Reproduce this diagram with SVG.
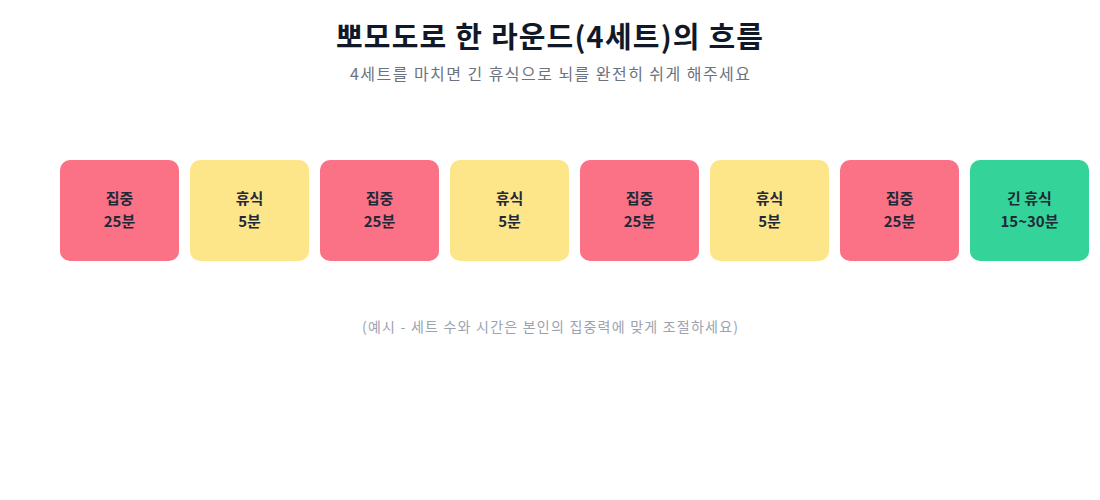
<svg xmlns="http://www.w3.org/2000/svg" width="1100" height="500" viewBox="0 0 1100 500">
<style>
text{font-family:"Noto Sans CJK KR","Noto Sans",sans-serif;text-anchor:middle}
.title{font-size:29px;font-weight:700;fill:#111827}
.sub{font-size:16px;fill:#6B7280}
.note{font-size:14px;fill:#9CA3AF}
.lbl{font-size:15px;font-weight:700;fill:#1F2937}
.focus{fill:#FB7185}
.rest{fill:#FDE68A}
.long{fill:#34D399}
</style>
<rect width="1100" height="500" fill="#ffffff"/>
<text class="title" x="549.5" y="48" textLength="427" lengthAdjust="spacing">뽀모도로 한 라운드(4세트)의 흐름</text>
<text class="sub" x="550" y="80" textLength="400" lengthAdjust="spacing">4세트를 마치면 긴 휴식으로 뇌를 완전히 쉬게 해주세요</text>
<g id="connectors"></g>
<g id="n1"><rect class="focus" x="60" y="160" width="119" height="101" rx="10"/><text class="lbl" x="119.5" y="204">집중</text><text class="lbl" x="119.5" y="227">25분</text></g>
<g id="n2"><rect class="rest" x="190" y="160" width="119" height="101" rx="10"/><text class="lbl" x="249.5" y="204">휴식</text><text class="lbl" x="249.5" y="227">5분</text></g>
<g id="n3"><rect class="focus" x="320" y="160" width="119" height="101" rx="10"/><text class="lbl" x="379.5" y="204">집중</text><text class="lbl" x="379.5" y="227">25분</text></g>
<g id="n4"><rect class="rest" x="450" y="160" width="119" height="101" rx="10"/><text class="lbl" x="509.5" y="204">휴식</text><text class="lbl" x="509.5" y="227">5분</text></g>
<g id="n5"><rect class="focus" x="580" y="160" width="119" height="101" rx="10"/><text class="lbl" x="639.5" y="204">집중</text><text class="lbl" x="639.5" y="227">25분</text></g>
<g id="n6"><rect class="rest" x="710" y="160" width="119" height="101" rx="10"/><text class="lbl" x="769.5" y="204">휴식</text><text class="lbl" x="769.5" y="227">5분</text></g>
<g id="n7"><rect class="focus" x="840" y="160" width="119" height="101" rx="10"/><text class="lbl" x="899.5" y="204">집중</text><text class="lbl" x="899.5" y="227">25분</text></g>
<g id="n8"><rect class="long" x="970" y="160" width="119" height="101" rx="10"/><text class="lbl" x="1029.5" y="204">긴 휴식</text><text class="lbl" x="1029.5" y="227">15~30분</text></g>
<text class="note" x="550" y="332" textLength="376" lengthAdjust="spacing">(예시 - 세트 수와 시간은 본인의 집중력에 맞게 조절하세요)</text>
</svg>
